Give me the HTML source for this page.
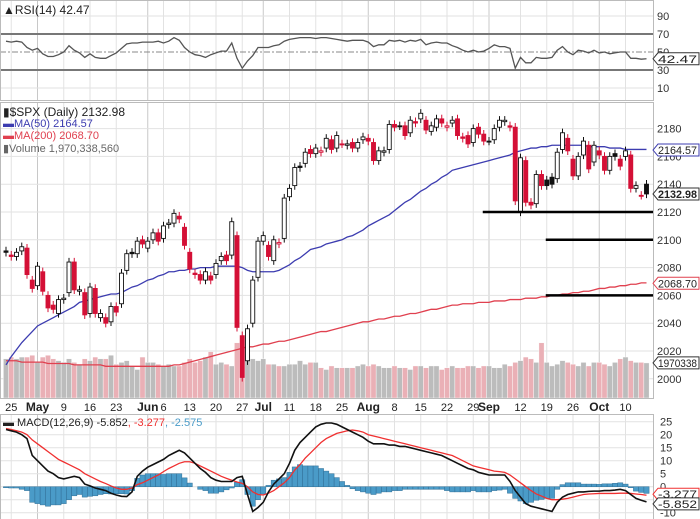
<!DOCTYPE html>
<html><head><meta charset="utf-8"><style>
body{margin:0;background:#fff;}
svg{display:block;font-family:"Liberation Sans",sans-serif;}
</style></head><body>
<svg id="chart" width="700" height="519" viewBox="0 0 700 519" xmlns="http://www.w3.org/2000/svg"></svg>
<script>
const closes=[2091,2088,2091,2095,2075,2065,2081,2063,2051,2050,2057,2058,2084,2064,2064,2046,2066,2047,2047,2040,2052,2048,2076,2090,2090,2099,2097,2099,2105,2099,2110,2112,2119,2115,2096,2079,2075,2071,2077,2071,2083,2088,2085,2113,2037,2001,2036,2071,2099,2103,2088,2100,2098,2130,2137,2152,2152,2163,2162,2166,2164,2173,2165,2175,2169,2169,2166,2170,2174,2171,2157,2164,2164,2183,2181,2182,2175,2186,2184,2191,2179,2182,2187,2184,2182,2186,2175,2173,2169,2180,2176,2171,2171,2180,2186,2186,2181,2128,2159,2127,2125,2147,2139,2139,2140,2163,2177,2164,2146,2160,2171,2151,2168,2161,2150,2160,2160,2153,2164,2137,2139,2132,2133];
const opens=[2092,2089,2088,2092,2094,2071,2067,2077,2060,2053,2047,2057,2062,2084,2063,2062,2047,2065,2044,2044,2041,2052,2054,2078,2091,2090,2100,2094,2100,2105,2101,2111,2112,2117,2109,2091,2076,2075,2071,2074,2075,2085,2089,2089,2103,2031,2013,2040,2073,2099,2096,2085,2097,2101,2131,2139,2153,2155,2165,2162,2163,2166,2172,2166,2169,2168,2170,2166,2172,2173,2170,2157,2163,2165,2183,2182,2182,2177,2185,2187,2186,2178,2181,2187,2181,2184,2187,2174,2175,2170,2181,2176,2171,2172,2181,2185,2182,2181,2120,2157,2127,2126,2147,2143,2145,2144,2165,2173,2158,2146,2161,2168,2156,2164,2160,2150,2162,2158,2160,2161,2137,2132,2140];
const ma50=[2010,2016,2021,2026,2030,2034,2038,2040,2042,2044,2046,2048,2050,2052,2055,2056,2057,2058,2059,2060,2061,2061,2062,2064,2066,2067,2069,2071,2072,2074,2075,2077,2077,2078,2078,2079,2079,2080,2080,2080,2081,2081,2081,2081,2081,2080,2078,2077,2077,2077,2077,2077,2078,2080,2082,2085,2087,2090,2093,2094,2095,2097,2098,2099,2100,2102,2103,2105,2107,2110,2112,2114,2116,2118,2121,2124,2127,2129,2132,2135,2137,2140,2142,2145,2147,2150,2151,2152,2153,2154,2155,2156,2157,2158,2159,2160,2161,2163,2164,2165,2166,2166,2167,2167,2168,2168,2168,2168,2168,2168,2168,2167,2167,2167,2167,2166,2166,2166,2165,2165,2165,2165,2165];
const ma200=[2013,2013,2013,2012,2012,2012,2012,2012,2011,2011,2011,2011,2011,2010,2010,2010,2010,2010,2010,2009,2009,2009,2009,2009,2009,2009,2009,2009,2009,2009,2009,2009,2010,2010,2011,2012,2013,2014,2015,2016,2017,2018,2019,2020,2021,2022,2023,2023,2024,2025,2025,2026,2027,2027,2028,2029,2030,2031,2032,2033,2034,2034,2035,2036,2037,2038,2039,2040,2041,2041,2042,2043,2043,2044,2045,2045,2046,2047,2047,2048,2049,2050,2050,2051,2052,2053,2053,2054,2054,2054,2055,2055,2055,2056,2056,2056,2057,2057,2057,2058,2058,2058,2059,2059,2060,2060,2061,2061,2062,2062,2063,2063,2064,2065,2065,2066,2066,2067,2067,2068,2068,2069,2069];
const volumes=[2.2,2.3,2.2,2.3,2.3,2.4,2.0,2.3,2.4,2.2,2.1,2.0,2.2,2.0,1.9,2.2,2.1,2.3,2.2,2.2,2.4,1.9,2.0,2.1,1.8,1.6,2.3,2.0,2.0,1.9,1.8,1.9,1.8,1.8,2.0,2.2,2.0,2.1,2.3,2.6,1.9,2.0,1.9,1.8,3.1,2.8,2.4,2.2,2.1,2.2,1.9,1.9,1.8,1.8,1.9,1.9,2.1,1.9,2.0,2.0,1.7,1.6,1.8,1.7,1.7,1.7,1.7,1.8,1.9,1.8,1.9,1.8,1.7,1.7,1.8,1.7,1.7,1.6,1.8,1.8,1.7,1.8,1.8,1.6,1.7,1.8,1.7,1.7,1.8,1.8,1.7,1.8,1.8,1.7,1.7,1.9,1.8,2.0,2.1,2.3,2.2,2.0,3.1,2.0,1.8,1.9,2.1,2.0,1.9,1.8,2.0,1.8,2.0,2.0,1.9,1.8,2.0,2.2,2.3,2.1,2.0,2.0,1.97];
const rsi=[62,61,62,61,55,52,54,48,45,45,47,50,57,52,49,44,48,44,43,43,46,49,54,59,60,60,61,61,61,62,60,62,66,63,55,50,47,46,44,47,49,51,51,60,43,32,40,46,55,55,55,57,58,62,64,65,66,66,66,65,66,66,65,64,63,62,63,63,63,61,56,58,58,63,62,63,61,63,62,64,58,60,61,60,60,57,55,52,50,52,50,51,54,58,56,56,54,32,44,38,38,44,43,43,44,52,56,50,47,52,51,49,52,49,50,48,49,50,50,43,43,42,42.47];
const macd=[22,21.5,21,20,18.5,12,10,8,6,5,3.5,3,3.5,4,3.5,1,0.3,-0.5,-1,-1.5,-2.5,-3.2,-3.7,-3.8,-2,4,6,7.5,8.5,9.5,10.5,12,13,14,13,11,9,7,5.5,3.5,2.5,2,2,2,3.5,4,-3,-9.5,-8,-6,-2,1,3,5,9,14,17,19,21,23,24,24.5,24.5,24,23,22,21,20,19,17.5,16.5,16.5,16.5,16,16,15.5,15.5,15,14.5,14,13.5,13,12.5,12,11,10,9,8,7,6.5,5.5,5,4.5,4.5,4.5,4.5,2,-1.5,-4,-6.5,-7.5,-8,-8.5,-9,-9.5,-6,-4,-3,-2.5,-2,-2,-1.8,-1.7,-1.7,-1.5,-1.5,-1.3,-1,-1.5,-3,-4.5,-5.2,-5.852];
const signal=[22.4,22,21.5,21,20,18,16.5,15,13.5,12,10.5,9.5,8.5,7.5,6.5,5,4,3,2,1.2,0.3,-0.5,-1,-1,-0.5,0.8,1.5,2.5,3.5,4.5,5.8,7,8,9,9.6,9.6,9,8,7,6,5,4,3.2,2.5,1.8,1.3,0,-2,-3,-3.2,-2.5,-1.5,0,1.5,3.5,6.4,8.5,11,13,15,17,18.5,19.5,20.5,21,21.5,21.8,21.5,21,20,19.5,19,18.5,18,17.5,17,16.5,16,15.5,15,14.5,14,13.5,13,12.5,12,11,10,9,8,7.5,7,6.5,6,5.8,5.5,4.5,3,1.5,0,-1.5,-2.8,-3.6,-4.5,-5,-5,-4.8,-4.5,-4,-3.5,-3,-2.8,-2.7,-2.6,-2.6,-2.6,-2.6,-2.5,-2.5,-2.6,-2.8,-3,-3.277];
const dateLabels=["25","May","9","16","23","Jun","6","13","20","27","Jul","11","18","25","Aug","8","15","22","29","Sep","12","19","26","Oct","10"];
const dateIdx=[1,6,11,16,21,27,30,35,40,45,49,54,59,64,69,74,79,84,89,92,98,103,108,113,118];
const priceTicks=[2000,2020,2040,2060,2080,2100,2120,2140,2160,2180];
const rsiTicks=[10,30,50,70,90];
const macdTicks=[-10,-5,0,5,10,15,20,25];
const supportLevels=[2120,2100,2060];
const supportStart=[91,103,103];

const NS="http://www.w3.org/2000/svg";
const svg=document.getElementById('chart');
const PR=653;
function xOf(i){return 6+i*5.25;}
function yP(p){return 212-(p-2120)*1.39;}
function yR(v){return 34+(70-v)*0.9;}
function yM(v){return 486.7-v*2.6;}
function vH(v){return v*17.8;}
function el(tag,attrs,parent){const e=document.createElementNS(NS,tag);for(const k in attrs)e.setAttribute(k,attrs[k]);(parent||svg).appendChild(e);return e;}
function txt(s,x,y,attrs){const t=el('text',Object.assign({x:x,y:y,'font-size':11,fill:'#333'},attrs||{}));t.textContent=s;return t;}

const defs=el('defs',{});
const cp=el('clipPath',{id:'pc'},defs);el('rect',{x:0,y:102,width:PR,height:296},cp);

dateIdx.forEach((d,k)=>{
  const month=isNaN(+dateLabels[k]);
  [[0,100],[102,398],[414,519]].forEach(r=>{
    const l=el('line',{x1:xOf(d),x2:xOf(d),y1:r[0],y2:r[1],stroke:month?'#c8c8c8':'#e2e2e2','stroke-width':1});
    
    
  });
  const t=txt(dateLabels[k],xOf(d),411,{'text-anchor':'middle','font-size':month?12:11,'font-weight':month?'bold':'normal',fill:'#222'});
  
  
});
priceTicks.forEach(p=>{
  const l=el('line',{x1:0,x2:PR,y1:yP(p),y2:yP(p),stroke:'#e2e2e2'});
  
  
  const t=txt(String(p),657,yP(p)+4);
  
  
});
rsiTicks.forEach(v=>{
  const strong=(v===30||v===70);
  const l=el('line',{x1:0,x2:PR,y1:yR(v),y2:yR(v),stroke:strong?'#777':(v===50?'#888':'#e2e2e2'),'stroke-width':strong?2:1,'stroke-dasharray':v===50?'6,2,2,2':'none'});
  
  
  const t=txt(String(v),657,yR(v)+4);
  
  
});
macdTicks.forEach(v=>{
  const l=el('line',{x1:0,x2:PR,y1:yM(v),y2:yM(v),stroke:'#e2e2e2'});
  
  
  if(v===-5)return;
  const t=txt(String(v),660,yM(v)+4);
  
  
});
[[0,0,PR,100],[0,102,PR,296],[0,414,PR,105]].forEach(r=>{
  const b=el('rect',{x:r[0]+0.5,y:r[1]+0.5,width:r[2],height:r[3],fill:'none',stroke:'#bbb'});
  
  
});

const g=el('g',{'clip-path':'url(#pc)'});
volumes.forEach((v,i)=>{
  const down=i>0&&closes[i]<closes[i-1];
  const r=el('rect',{x:xOf(i)-2.6,y:398-vH(v),width:5.2,height:vH(v),fill:down?'#eab0b6':'#bcbcbc',stroke:'#fff','stroke-width':0.4},g);
  
  
});
function poly(arr,fy,color,name,w){
  const p=el('polyline',{points:arr.map((v,i)=>xOf(i)+','+fy(v)).join(' '),fill:'none',stroke:color,'stroke-width':w||1.3},g);
  
  
}
poly(ma200,yP,'#e0404f','ma200-line');
poly(ma50,yP,'#3c3cb0','ma50-line');
closes.forEach((c,i)=>{
  const o=opens[i];
  const down=i>0&&c<closes[i-1];
  const col=down?'#d41036':'#111';
  const hi=Math.max(o,c)+3,lo=Math.min(o,c)-3;
  const x=xOf(i);
  const w=el('line',{x1:x,x2:x,y1:yP(hi),y2:yP(lo),stroke:col,'stroke-width':1},g);
  
  
  const top=yP(Math.max(o,c)),h=Math.max(1,yP(Math.min(o,c))-top);
  const hollow=c>o;
  const b=el('rect',{x:x-2,y:top,width:4,height:h,fill:hollow?'#fff':col,stroke:col,'stroke-width':0.9},g);
  
  
});
supportLevels.forEach((p,k)=>{
  const l=el('line',{x1:xOf(supportStart[k])-1,x2:PR,y1:yP(p),y2:yP(p),stroke:'#000','stroke-width':2.5});
  
  
});
const rl=el('polyline',{points:rsi.map((v,i)=>xOf(i)+','+yR(v)).join(' '),fill:'none',stroke:'#555','stroke-width':1.3});


macd.forEach((m,i)=>{
  const h=m-signal[i];
  const y0=yM(0),y1=yM(h);
  const r=el('rect',{x:xOf(i)-2.6,y:Math.min(y0,y1),width:5.2,height:Math.abs(y1-y0),fill:'#4a9bc8',stroke:'#2f6f96','stroke-width':0.5});
  
  
});
const sl=el('polyline',{points:signal.map((v,i)=>xOf(i)+','+yM(v)).join(' '),fill:'none',stroke:'#f03030','stroke-width':1.3});


const ml=el('polyline',{points:macd.map((v,i)=>xOf(i)+','+yM(v)).join(' '),fill:'none',stroke:'#111','stroke-width':1.6});



function tag(s,y,color,name,bold){
  const p=el('path',{d:`M653 ${y} l5 -6 h41 v12 h-41 z`,fill:'#fff',stroke:color,'stroke-width':1});
  
  
  const t=txt(s,658,y+4,{fill:'#222','font-weight':bold?'bold':'normal','font-size':11,textLength:39,lengthAdjust:'spacingAndGlyphs'});
  
  
}
tag('42.47',yR(42.47),'#333','rsi-value-tag');
tag('2164.57',yP(2164.57),'#3c3cb0','ma50-value-tag');
tag('2132.98',yP(2132.98),'#333','price-value-tag',true);
tag('2068.70',yP(2068.7),'#e0404f','ma200-value-tag');
tag('1970338',398-vH(volumes[volumes.length-1]),'#333','volume-value-tag');
tag('-3.277',yM(-3.277)-1,'#f03030','signal-value-tag');
tag('-5.852',yM(-5.852)+2,'#333','macd-value-tag');
</script>
<div style="position:absolute;left:0;top:0;width:700px;height:519px;pointer-events:none;font-family:'Liberation Sans',sans-serif;">
  <div style="position:absolute;left:3px;top:3px;font-size:12px;color:#222;">▲RSI(14) 42.47</div>
  <div style="position:absolute;left:3px;top:105px;font-size:12px;color:#222;">▮$SPX (Daily) 2132.98</div>
  <div style="position:absolute;left:3px;top:118px;font-size:11px;color:#3c3cb0;">▬MA(50) 2164.57</div>
  <div style="position:absolute;left:3px;top:130px;font-size:11px;color:#e0404f;">▬MA(200) 2068.70</div>
  <div style="position:absolute;left:3px;top:142px;font-size:11px;color:#666;">▮Volume 1,970,338,560</div>
  <div style="position:absolute;left:3px;top:417px;font-size:11px;color:#222;">▬ MACD(12,26,9) -5.852<span style="color:#f03030">, -3.277</span><span style="color:#4a9bc8">, -2.575</span></div>
</div>
</body></html>
